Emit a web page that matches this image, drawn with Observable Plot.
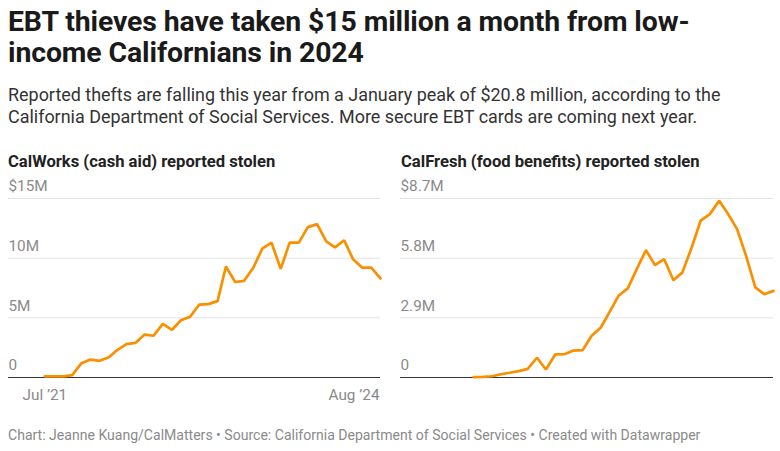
<!DOCTYPE html>
<html>
<head>
<meta charset="utf-8">
<script src="https://cdn.jsdelivr.net/npm/d3@7"></script>
<script src="https://cdn.jsdelivr.net/npm/@observablehq/plot@0.6"></script>
<style>
  html, body { margin: 0; padding: 0; background: #fff; }
  body { width: 780px; height: 451px; overflow: hidden; font-family: Roboto, "Noto Sans", sans-serif; position: relative; }
  .title { position: absolute; left: 8px; top: 6px; width: 772px; font-size: 28.4px; font-weight: 700; line-height: 31px; color: #1a1a1a; letter-spacing: -0.1px; white-space: nowrap; }
  .sub { position: absolute; left: 8px; top: 84px; width: 760px; font-size: 17.95px; line-height: 21.5px; color: #333; }
  .panel { position: absolute; top: 152px; width: 390px; }
  .panel h3 { margin: 0; font-size: 16.6px; font-weight: 700; color: #222; line-height: 20px; height: 26px; white-space: nowrap; }
  .foot { position: absolute; left: 8px; top: 427px; font-size: 14.05px; color: #8a8a8a; white-space: nowrap; }
  svg text { font-family: Roboto, "Noto Sans", sans-serif; }
</style>
</head>
<body>
<div class="title">EBT thieves have taken $15 million a month from low-<br>income Californians in 2024</div>
<div class="sub">Reported thefts are falling this year from a January peak of $20.8 million, according to the<br>California Department of Social Services. More secure EBT cards are coming next year.</div>
<div class="panel" id="p1" style="left:0px"><h3 style="padding-left:8px">CalWorks (cash aid) reported stolen</h3></div>
<div class="panel" id="p2" style="left:390px"><h3 style="padding-left:11px">CalFresh (food benefits) reported stolen</h3></div>
<div class="foot">Chart: Jeanne Kuang/CalMatters • Source: California Department of Social Services • Created with Datawrapper</div>
<script>
// Months, values in millions of dollars
const calworksStart = "2021-07";
const calworks = [0.1, 0.1, 0.1, 0.2, 1.2, 1.5, 1.4, 1.7, 2.3, 2.8, 2.9, 3.6, 3.5, 4.5, 4.0, 4.8, 5.1, 6.1, 6.15, 6.4,
  9.3, 8.0, 8.1, 9.2, 10.8, 11.3, 9.1, 11.3, 11.3, 12.6, 12.85, 11.4, 10.9, 11.5, 9.9, 9.2, 9.2, 8.3];
const calfreshStart = "2021-11";
const calfresh = [0.02, 0.03, 0.06, 0.16, 0.23, 0.31, 0.42, 0.96, 0.39, 1.12, 1.13, 1.31, 1.33, 2.03, 2.43, 3.24,
  3.97, 4.33, 5.27, 6.19, 5.46, 5.75, 4.73, 5.11, 6.32, 7.62, 7.94, 8.59, 7.97, 7.21, 5.92, 4.38, 4.05, 4.21];
const xDomainStart = "2021-03";
const xDomainEnd = "2024-08";
const calworksTicks = [0, 5, 10, 15];
const calworksTickLabels = ["0", "5M", "10M", "$15M"];
const calfreshTicks = [0, 2.9, 5.8, 8.7];
const calfreshTickLabels = ["0", "2.9M", "5.8M", "$8.7M"];
const xTickDates = ["2021-07", "2024-08"];
const xTickLabels = ["Jul ’21", "Aug ’24"];

const parse = d3.utcParse("%Y-%m");
function series(start, vals) {
  const s = parse(start);
  return vals.map((v, i) => ({date: d3.utcMonth.offset(s, i), value: v}));
}
const orange = "#fa8f00";

function chart(data, ticks, labels, showX, ml, mr) {
  const marks = [
    Plot.gridY(ticks, {stroke: "#e3e3e3", strokeOpacity: 1, strokeWidth: 1}),
    Plot.axisY(ticks, {tickSize: 0, tickPadding: 0, textAnchor: "start", dy: -12, dx: 0,
      tickFormat: (d) => labels[ticks.indexOf(d)], fill: "#8a8a8a", fontSize: 15.3, label: null}),
    Plot.ruleY([0], {stroke: "#333", strokeWidth: 1.2}),
    Plot.lineY(data, {x: "date", y: "value", stroke: orange, strokeWidth: 2.7, strokeLinejoin: "miter"})
  ];
  if (showX) {
    marks.push(Plot.axisX([parse(xTickDates[0])], {tickSize: 0, tickPadding: 12, fontSize: 15.3, fill: "#8a8a8a",
      tickFormat: () => xTickLabels[0], label: null}));
    marks.push(Plot.axisX([parse(xTickDates[1])], {tickSize: 0, tickPadding: 12, fontSize: 15.3, fill: "#8a8a8a",
      textAnchor: "end", dx: -1, tickFormat: () => xTickLabels[1], label: null}));
  } else {
    marks.push(Plot.axisX({ticks: [], label: null}));
  }
  return Plot.plot({
    width: 390, height: 226,
    marginTop: 20, marginBottom: 27, marginLeft: ml, marginRight: mr,
    x: {type: "utc", domain: [parse(xDomainStart), parse(xDomainEnd)]},
    y: {domain: [0, ticks[ticks.length - 1]]},
    style: {fontFamily: "Roboto, sans-serif", fontSize: "15px", overflow: "visible"},
    marks
  });
}
document.getElementById("p1").append(chart(series(calworksStart, calworks), calworksTicks, calworksTickLabels, true, 8, 10));
document.getElementById("p2").append(chart(series(calfreshStart, calfresh), calfreshTicks, calfreshTickLabels, false, 10, 7));
</script>
</body>
</html>
